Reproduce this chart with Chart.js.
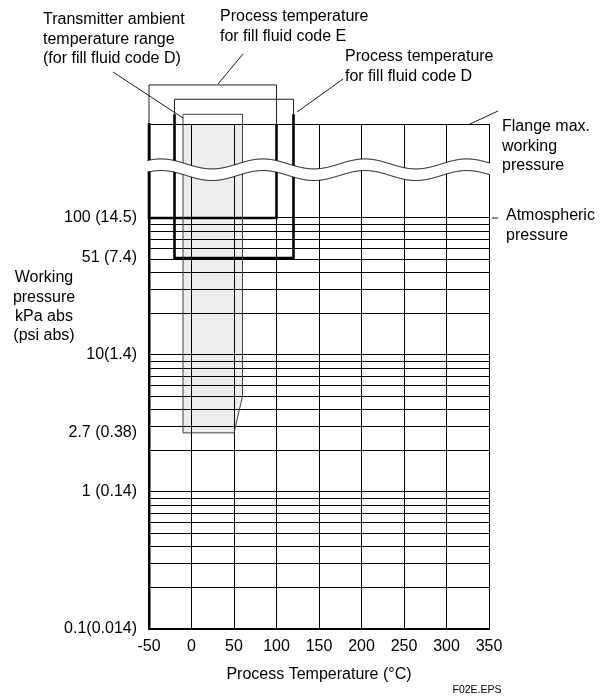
<!DOCTYPE html>
<html><head><meta charset="utf-8">
<script src="https://cdn.jsdelivr.net/npm/chart.js@4.4.1/dist/chart.umd.min.js"></script>
<style>html,body{margin:0;padding:0;background:#fff}#wrap{width:605px;height:697px;position:relative}</style>
</head><body><div id="wrap"><canvas id="c"></canvas></div>
<script>
// ---------------- data ----------------
const temperatureTicks = [-50, 0, 50, 100, 150, 200, 250, 300, 350];
const pressureGrid = [0.1,0.2,0.3,0.4,0.5,0.6,0.7,0.8,0.9,1,2,3,4,5,6,7,8,9,10,20,30,40,50,60,70,80,90,100];
const pressureLabelValues = [0.1, 1, 2.7, 10, 51, 100];
const pressureLabelTexts = ['0.1(0.014)', '1 (0.14)', '2.7 (0.38)', '10(1.4)', '51 (7.4)', '100 (14.5)'];
const flangeMax = 485;          // top of the broken (schematic) axis
const breakUpper = 248;         // centre of upper break wave
const breakLower = 204;         // centre of lower break wave
const wavePeriodT = 120;        // break wave period, degC
const wavePhaseT = 84;          // break wave crest, degC

// Transmitter ambient temperature range (fill fluid code D)
const ambientTopT = [-10, 60];
const ambientTopP = [571, 571];
const ambientBottomT = [-10, 50, 60];
const ambientBottomP = [2.7, 2.7, 5];
const ambientOutlineT = [-10, 60, 60, 50, -10, -10];
const ambientOutlineP = [571, 571, 5, 2.7, 2.7, 571];
// Process temperature, fill fluid code E
const processET = [-50, -50, 100, 100];
const processEP = [flangeMax, 100, 100, flangeMax];
const bracketET = [-50, -50, 100, 100];
const bracketEP = [flangeMax, 935, 935, flangeMax];
// Process temperature, fill fluid code D
const processDT = [-20, -20, 120, 120];
const processDP = [571, 51, 51, 571];
const bracketDT = [-20, -20, 120, 120];
const bracketDP = [571, 735, 735, 571];

// ---------------- helpers ----------------
const pts = (xs, ys) => xs.map((x, i) => ({x: x, y: ys[i]}));
const labelMap = {};
pressureLabelValues.forEach((v, i) => { labelMap[v] = pressureLabelTexts[i]; });
const gridSet = new Set(pressureGrid.concat([flangeMax]));
const allYTicks = Array.from(new Set(pressureGrid.concat(pressureLabelValues, [flangeMax]))).sort((a, b) => a - b);

const FONT = "'Liberation Sans', Arial, Helvetica, sans-serif";
const base = {type: 'line', pointRadius: 0, pointHoverRadius: 0, pointHitRadius: 0, tension: 0, fill: false};

const notes = [
  {lines: ['Transmitter ambient', 'temperature range', '(for fill fluid code D)'], x: 43, y: 20, align: 'left'},
  {lines: ['Process temperature', 'for fill fluid code E'], x: 220, y: 17, align: 'left'},
  {lines: ['Process temperature', 'for fill fluid code D'], x: 345, y: 57, align: 'left'},
  {lines: ['Flange max.', 'working', 'pressure'], x: 502, y: 127, align: 'left'},
  {lines: ['Atmospheric', 'pressure'], x: 506, y: 216, align: 'left'},
  {lines: ['Working', 'pressure', 'kPa abs', '(psi abs)'], x: 44, y: 278, align: 'center'}
];
const leaders = [
  [113, 72, 183, 118],
  [218, 84, 243, 54],
  [297, 112, 343, 79],
  [470, 124, 498, 111],
  [492, 218, 498, 218]
];

const overlay = {
  id: 'overlay',
  afterDatasetsDraw(chart) {
    const ctx = chart.ctx, xs = chart.scales.x, ys = chart.scales.y, ca = chart.chartArea;
    const yu = ys.getPixelForValue(breakUpper), yl = ys.getPixelForValue(breakLower);
    const amp = 5;
    const w = px => -amp * Math.cos(2 * Math.PI * (xs.getValueForPixel(px) - wavePhaseT) / wavePeriodT);
    const x0 = ca.left - 2.5, x1 = ca.right + 1;
    ctx.save();
    ctx.beginPath();
    for (let px = x0; px <= x1; px += 1) ctx.lineTo(px, yu + w(px));
    ctx.lineTo(x1, yu + w(x1));
    for (let px = x1; px >= x0; px -= 1) ctx.lineTo(px, yl + w(px));
    ctx.closePath();
    ctx.fillStyle = '#fff';
    ctx.fill();
    ctx.strokeStyle = '#000';
    ctx.lineWidth = 1;
    [yu, yl].forEach(c => {
      ctx.beginPath();
      for (let px = x0 + 1; px <= x1; px += 1) ctx.lineTo(px, c + w(px));
      ctx.stroke();
    });
    ctx.restore();
  },
  afterDraw(chart) {
    const ctx = chart.ctx;
    ctx.save();
    ctx.fillStyle = '#000';
    ctx.font = '16px ' + FONT;
    ctx.textBaseline = 'middle';
    notes.forEach(n => {
      ctx.textAlign = n.align;
      n.lines.forEach((t, i) => ctx.fillText(t, n.x, n.y + i * 19.3));
    });
    ctx.strokeStyle = '#000';
    ctx.lineWidth = 0.9;
    leaders.forEach(l => {
      ctx.beginPath(); ctx.moveTo(l[0], l[1]); ctx.lineTo(l[2], l[3]); ctx.stroke();
    });
    ctx.font = '10.5px ' + FONT;
    ctx.textAlign = 'center';
    ctx.fillText('F02E.EPS', 477, 690);
    ctx.restore();
  }
};

new Chart(document.getElementById('c'), {
  type: 'line',
  data: {
    datasets: [
      Object.assign({}, base, {data: pts(ambientTopT, ambientTopP), borderWidth: 0, borderColor: 'rgba(0,0,0,0)', fill: '+1', backgroundColor: 'rgba(0,0,0,0.07)'}),
      Object.assign({}, base, {data: pts(ambientBottomT, ambientBottomP), borderWidth: 0, borderColor: 'rgba(0,0,0,0)'}),
      Object.assign({}, base, {data: pts(ambientOutlineT, ambientOutlineP), borderWidth: 1, borderColor: '#444', clip: false}),
      Object.assign({}, base, {data: pts(bracketET, bracketEP), borderWidth: 1, borderColor: '#222', clip: false}),
      Object.assign({}, base, {data: pts(bracketDT, bracketDP), borderWidth: 1, borderColor: '#222', clip: false}),
      Object.assign({}, base, {data: pts(processET, processEP), borderWidth: 2.6, borderColor: '#000', clip: false, borderJoinStyle: 'miter'}),
      Object.assign({}, base, {data: pts(processDT, processDP), borderWidth: 2.6, borderColor: '#000', clip: false, borderJoinStyle: 'miter'})
    ]
  },
  options: {
    responsive: true,
    maintainAspectRatio: false,
    animation: false,
    events: [],
    layout: {padding: {top: 124, right: 116, left: 0, bottom: 0}},
    plugins: {legend: {display: false}, tooltip: {enabled: false}, title: {display: false}},
    scales: {
      x: {
        type: 'linear', min: -50, max: 350,
        afterBuildTicks: s => { s.ticks = temperatureTicks.map(v => ({value: v})); },
        afterFit: s => { s.height = 68; },
        ticks: {autoSkip: false, maxRotation: 0, padding: 8, color: '#000', font: {family: FONT, size: 16}, callback: v => String(v)},
        grid: {color: '#000', lineWidth: 1, drawTicks: false},
        border: {color: '#000', width: 2},
        title: {display: true, text: 'Process Temperature (°C)', color: '#000', font: {family: FONT, size: 16}, padding: {top: 0, bottom: 13}}
      },
      y: {
        type: 'logarithmic', min: 0.1, max: flangeMax,
        afterBuildTicks: s => { s.ticks = allYTicks.map(v => ({value: v})); },
        afterFit: s => { s.width = 149; },
        ticks: {autoSkip: false, padding: 12, color: '#000', font: {family: FONT, size: 16},
          callback: v => (labelMap[v] !== undefined ? labelMap[v] : '')},
        grid: {color: c => (c.tick && gridSet.has(c.tick.value) ? '#000' : 'rgba(0,0,0,0)'), lineWidth: 1, drawTicks: false},
        border: {color: '#000', width: 2.5}
      }
    }
  },
  plugins: [overlay]
});
</script>
</body></html>
